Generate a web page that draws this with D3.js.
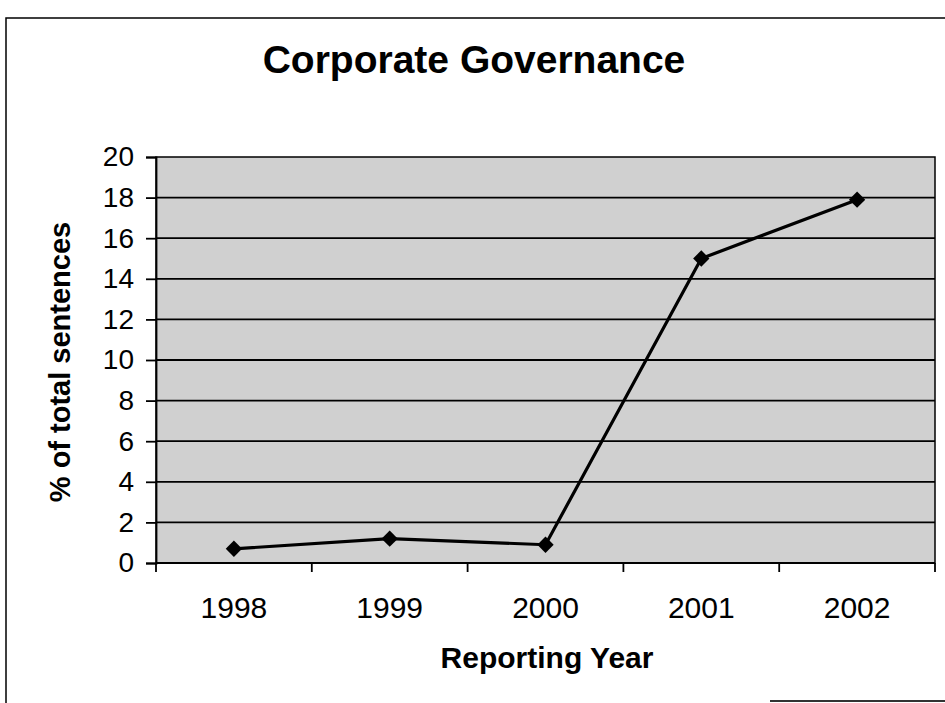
<!DOCTYPE html>
<html><head><meta charset="utf-8">
<script src="https://cdn.jsdelivr.net/npm/d3@7"></script>
<style>body{margin:0;background:#fff}svg{display:block}</style>
</head><body>
<script>
const categories = ["1998","1999","2000","2001","2002"];
const values = [0.7, 1.2, 0.9, 15.0, 17.9];
const yTicks = [0,2,4,6,8,10,12,14,16,18,20];
const title = "Corporate Governance";
const xTitle = "Reporting Year";
const yTitle = "% of total sentences";

const W = 945, H = 703;
const m = {left:156, right:10, top:157, bottom:140};
const svg = d3.select("body").append("svg").attr("width",W).attr("height",H)
  .style("font-family","'Liberation Sans', Arial, sans-serif");

// outer chart border
svg.append("rect").attr("x",6).attr("y",18).attr("width",W+20).attr("height",H+20)
  .attr("fill","none").attr("stroke","#000").attr("stroke-width",1.5);
svg.append("line").attr("x1",770).attr("x2",W).attr("y1",701).attr("y2",701)
  .attr("stroke","#333").attr("stroke-width",2);

const x = d3.scaleBand().domain(categories).range([m.left, W-m.right]);
const y = d3.scaleLinear().domain([0,20]).range([H-m.bottom, m.top]);

const g = svg.append("g");
g.append("rect").attr("x",m.left).attr("y",m.top).attr("width",W-m.right-m.left)
  .attr("height",H-m.bottom-m.top).attr("fill","#d0d0d0").attr("stroke","#000").attr("stroke-width",1.5);

// gridlines
g.selectAll("line.grid").data(yTicks.filter(d=>d>0 && d<20)).enter().append("line")
  .attr("x1",m.left).attr("x2",W-m.right).attr("y1",d=>y(d)).attr("y2",d=>y(d))
  .attr("stroke","#000").attr("stroke-width",1.8);

// y axis
const yAxis = d3.axisLeft(y).tickValues(yTicks).tickSize(10).tickPadding(12);
const ya = svg.append("g").attr("transform",`translate(${m.left},0)`).call(yAxis);
ya.attr("font-family",null).attr("font-size",null);
ya.select(".domain").attr("stroke-width",1.8);
ya.selectAll("line").attr("stroke-width",1.8);
ya.selectAll("text").attr("font-size",28).attr("fill","#000");

// x axis with ticks at category boundaries
const xa = svg.append("g").attr("transform",`translate(0,${H-m.bottom})`);
xa.append("line").attr("x1",m.left).attr("x2",W-m.right).attr("stroke","#000").attr("stroke-width",1.8);
const bounds = categories.map(c=>x(c)).concat([x(categories[categories.length-1])+x.bandwidth()]);
xa.selectAll("line.tk").data(bounds).enter().append("line")
  .attr("x1",d=>d).attr("x2",d=>d).attr("y1",0).attr("y2",9).attr("stroke","#000").attr("stroke-width",1.8);
xa.selectAll("text").data(categories).enter().append("text")
  .attr("x",d=>x(d)+x.bandwidth()/2).attr("y",55).attr("text-anchor","middle")
  .attr("font-size",30).text(d=>d);

// line + markers
const line = d3.line().x((d,i)=>x(categories[i])+x.bandwidth()/2).y(d=>y(d));
svg.append("path").datum(values).attr("d",line).attr("fill","none")
  .attr("stroke","#000").attr("stroke-width",3.2);
svg.selectAll("path.pt").data(values).enter().append("path")
  .attr("d",d3.symbol().type(d3.symbolDiamond2).size(170))
  .attr("transform",(d,i)=>`translate(${x(categories[i])+x.bandwidth()/2},${y(d)})`)
  .attr("fill","#000");

// titles
svg.append("text").attr("x",474).attr("y",73).attr("text-anchor","middle")
  .attr("font-size",39).attr("font-weight","bold").text(title);
svg.append("text").attr("x",547).attr("y",668).attr("text-anchor","middle")
  .attr("font-size",30).attr("font-weight","bold").text(xTitle);
svg.append("text").attr("transform",`translate(70,362) rotate(-90)`).attr("text-anchor","middle")
  .attr("font-size",29).attr("font-weight","bold").text(yTitle);
</script>
</body></html>
